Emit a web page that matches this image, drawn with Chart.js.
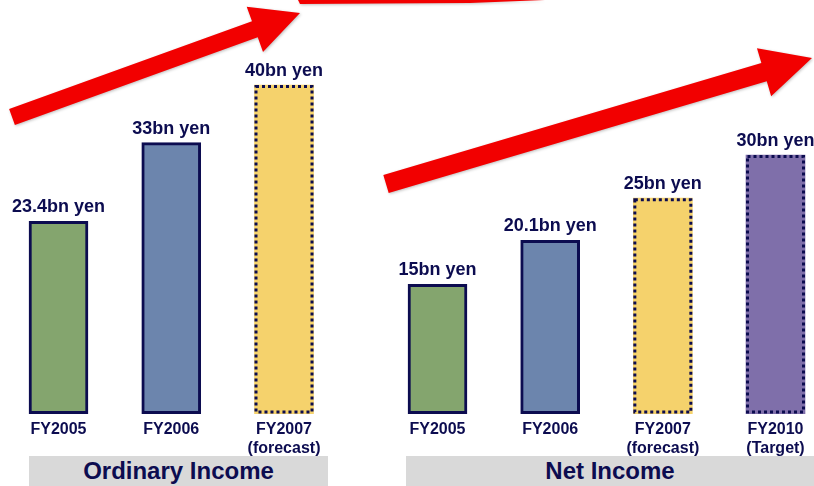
<!DOCTYPE html>
<html>
<head>
<meta charset="utf-8">
<script src="https://cdn.jsdelivr.net/npm/chart.js@4.4.0/dist/chart.umd.min.js"></script>
<style>
  html, body { margin: 0; padding: 0; background: #fff; }
  #wrap { position: relative; width: 814px; height: 486px; overflow: hidden; font-family: "Liberation Sans", Arial, sans-serif; }
  canvas { position: absolute; top: 0; }
  #left { left: 0; }
  #right { left: 380px; }
  .title { position: absolute; top: 456px; height: 30px; line-height: 30px; background: #d9d9d9;
           color: #0c0c50; font-weight: bold; font-size: 24px; text-align: center; }
</style>
</head>
<body>
<div id="wrap">
  <div class="title" style="left:29px;width:299px">Ordinary Income</div>
  <div class="title" style="left:406px;width:408px">Net Income</div>
  <canvas id="left" width="380" height="486" style="width:380px;height:486px"></canvas>
  <canvas id="right" width="434" height="486" style="width:434px;height:486px"></canvas>
</div>
<script>
const ordinaryLabels = ['FY2005', 'FY2006', ['FY2007', '(forecast)']];
const ordinaryValues = [23.4, 33, 40];
const netLabels = ['FY2005', 'FY2006', ['FY2007', '(forecast)'], ['FY2010', '(Target)']];
const netValues = [15, 20.1, 25, 30];
const barColors = ['#84a56e', '#6c85ad', '#f5d26c', '#7f6faa'];

const NAVY = '#0c0c50';
const FONT = '"Liberation Sans", Arial, sans-serif';

// red arrows behind the charts, in page coordinates (each canvas shifts by its own left)
function drawArrow(ctx, x0, y0, x1, y1, half, headLen, headHalf) {
  const dx = x1 - x0, dy = y1 - y0, L = Math.hypot(dx, dy);
  const ux = dx / L, uy = dy / L, nx = -uy, ny = ux;
  const bx = x1 - ux * headLen, by = y1 - uy * headLen;
  ctx.beginPath();
  ctx.moveTo(x0 + nx * half, y0 + ny * half);
  ctx.lineTo(bx + nx * half, by + ny * half);
  ctx.lineTo(bx + nx * headHalf, by + ny * headHalf);
  ctx.lineTo(x1, y1);
  ctx.lineTo(bx - nx * headHalf, by - ny * headHalf);
  ctx.lineTo(bx - nx * half, by - ny * half);
  ctx.lineTo(x0 - nx * half, y0 - ny * half);
  ctx.closePath();
  ctx.fill();
}

const arrowsPlugin = {
  id: 'arrows',
  beforeDraw(chart, args, opts) {
    const ctx = chart.ctx;
    ctx.save();
    ctx.translate(-opts.offset, 0);
    ctx.fillStyle = '#f20000';
    ctx.shadowColor = 'rgba(0,0,0,0.25)';
    ctx.shadowBlur = 3;
    ctx.shadowOffsetX = 1;
    ctx.shadowOffsetY = 1;
    drawArrow(ctx, 12, 117, 300, 13, 8.5, 48, 24);
    drawArrow(ctx, 386, 184, 812, 58, 9.5, 50, 25);
    ctx.beginPath();
    ctx.moveTo(298, 0);
    ctx.lineTo(545, 0);
    ctx.lineTo(470, 3);
    ctx.lineTo(300, 4);
    ctx.closePath();
    ctx.fill();
    ctx.restore();
  }
};

// value labels and dotted outlines for forecast / target bars
const barExtrasPlugin = {
  id: 'barExtras',
  afterDatasetsDraw(chart, args, opts) {
    const ctx = chart.ctx;
    const meta = chart.getDatasetMeta(0);
    const values = chart.data.datasets[0].data;
    ctx.save();
    meta.data.forEach((bar, i) => {
      const p = bar.getProps(['x', 'y', 'base', 'width'], true);
      if (i >= opts.dottedFrom) {
        ctx.strokeStyle = NAVY;
        ctx.lineWidth = 3;
        ctx.setLineDash([3, 3]);
        ctx.strokeRect(p.x - p.width / 2 + 1.5, p.y + 1.5, p.width - 3, p.base - p.y - 3);
        ctx.setLineDash([]);
      }
      ctx.fillStyle = NAVY;
      ctx.font = 'bold 18px ' + FONT;
      ctx.textAlign = 'center';
      ctx.textBaseline = 'alphabetic';
      ctx.fillText(values[i] + 'bn yen', p.x, p.y - 9);
    });
    ctx.restore();
  }
};

function makeChart(id, labels, values, yMax, pad, offset) {
  return new Chart(document.getElementById(id), {
    type: 'bar',
    data: {
      labels: labels,
      datasets: [{
        data: values,
        backgroundColor: barColors.slice(0, values.length),
        borderColor: NAVY,
        borderWidth: ctx => ctx.dataIndex >= 2 ? 0 : 3,
        borderSkipped: false,
        barThickness: 59,
        clip: false
      }]
    },
    options: {
      responsive: false,
      animation: false,
      layout: { padding: pad },
      plugins: {
        legend: { display: false },
        tooltip: { enabled: false },
        arrows: { offset: offset },
        barExtras: { dottedFrom: 2 }
      },
      scales: {
        x: {
          offset: false,
          grid: { display: false, drawTicks: false },
          border: { display: false },
          ticks: {
            padding: 6,
            color: NAVY,
            maxRotation: 0,
            autoSkip: false,
            font: { family: FONT, size: 16, weight: 'bold', lineHeight: 1.2 }
          }
        },
        y: {
          display: false,
          min: 0,
          max: yMax
        }
      }
    },
    plugins: [arrowsPlugin, barExtrasPlugin]
  });
}

makeChart('left', ordinaryLabels, ordinaryValues, 50, { left: 58.5, right: 96, top: 3, bottom: 22 }, 0);
makeChart('right', netLabels, netValues, 48, { left: 57.5, right: 38.5, top: 0, bottom: 22 }, 380);
</script>
</body>
</html>
